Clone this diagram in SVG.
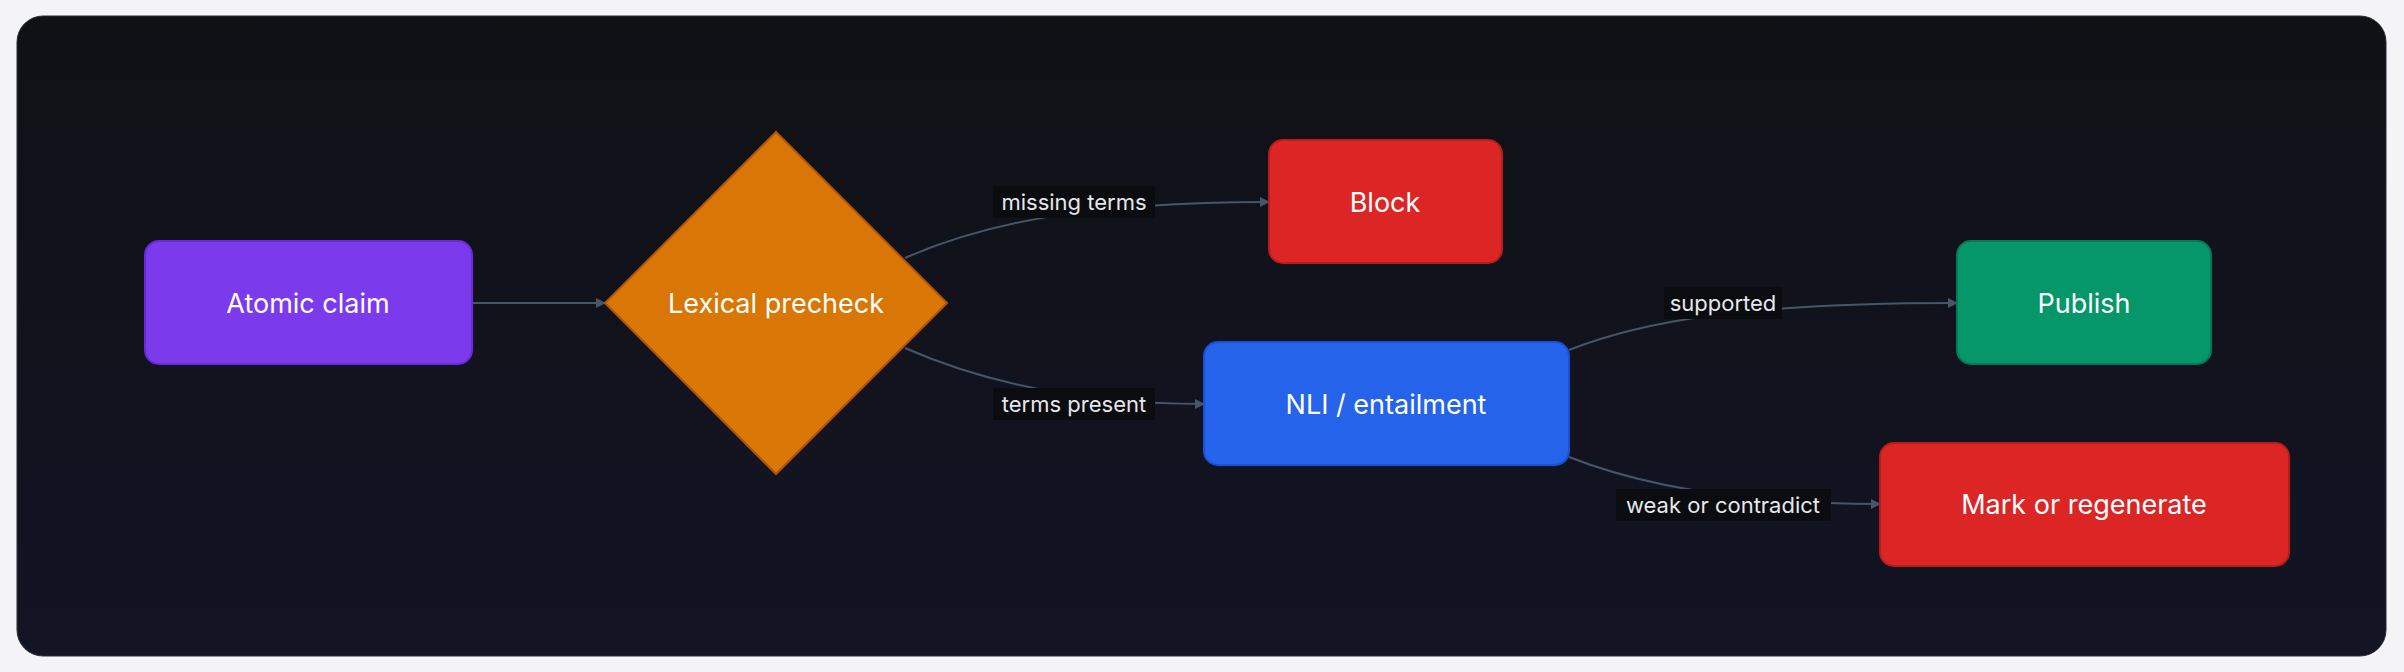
<svg xmlns="http://www.w3.org/2000/svg" width="2404" height="672" viewBox="0 0 2404 672">
<defs>
<linearGradient id="bg" x1="0" y1="0" x2="0" y2="1"><stop offset="0" stop-color="#0f1115"/><stop offset="1" stop-color="#131424"/></linearGradient>
<marker id="ah" viewBox="0 0 10 10" refX="9" refY="5" markerWidth="10" markerHeight="10" markerUnits="userSpaceOnUse" orient="auto"><path d="M0,0 L10,5 L0,10 z" fill="#475569"/></marker>
<style>
.n{font-family:Inter,"Liberation Sans",sans-serif;font-size:27px;fill:#fff;text-anchor:middle;dominant-baseline:central}
.l{font-family:Inter,"Liberation Sans",sans-serif;font-size:22px;fill:#e5e7eb;text-anchor:middle;dominant-baseline:central}
.e{fill:none;stroke:#475569;stroke-width:2;marker-end:url(#ah)}
.lb{fill:#0b0c10}
</style>
</defs>
<rect width="2404" height="672" fill="#f4f4f6"/>
<rect x="17" y="16" width="2369" height="640" rx="26" fill="url(#bg)" stroke="#2a2d36"/>
<g id="connectors">
<path class="e" d="M472,303 L605,303"/>
<path class="e" d="M905,258 C980,225 1080,202 1269,202"/>
<path class="e" d="M905,348 C980,381 1080,404 1204,404"/>
<path class="e" d="M1569,350 C1640,322 1740,303 1957,303"/>
<path class="e" d="M1569,457 C1640,485 1740,504 1880,504"/>
<rect class="lb" x="993" y="186" width="162" height="32"/><text class="l" x="1074" y="202">missing terms</text>
<rect class="lb" x="993" y="388" width="162" height="32"/><text class="l" x="1074" y="404">terms present</text>
<rect class="lb" x="1664" y="287" width="118" height="32"/><text class="l" x="1723" y="303">supported</text>
<rect class="lb" x="1616" y="489" width="215" height="32"/><text class="l" x="1723" y="505">weak or contradict</text>
</g>
<g id="atomic"><rect x="145" y="241" width="327" height="123" rx="14" fill="#7c3aed" stroke="#6d28d9" stroke-width="2"/><text class="n" x="308" y="303">Atomic claim</text></g>
<g id="lexical"><polygon points="776,132 947,303 776,474 605,303" fill="#d97706" stroke="#b45309" stroke-width="2"/><text class="n" x="776" y="303">Lexical precheck</text></g>
<g id="block"><rect x="1269" y="140" width="233" height="123" rx="14" fill="#dc2626" stroke="#b91c1c" stroke-width="2"/><text class="n" x="1385" y="202">Block</text></g>
<g id="nli"><rect x="1204" y="342" width="365" height="123" rx="14" fill="#2563eb" stroke="#1d4ed8" stroke-width="2"/><text class="n" x="1386" y="404">NLI / entailment</text></g>
<g id="publish"><rect x="1957" y="241" width="254" height="123" rx="14" fill="#059669" stroke="#047857" stroke-width="2"/><text class="n" x="2084" y="303">Publish</text></g>
<g id="mark"><rect x="1880" y="443" width="409" height="123" rx="14" fill="#dc2626" stroke="#b91c1c" stroke-width="2"/><text class="n" x="2084" y="504">Mark or regenerate</text></g>
</svg>
